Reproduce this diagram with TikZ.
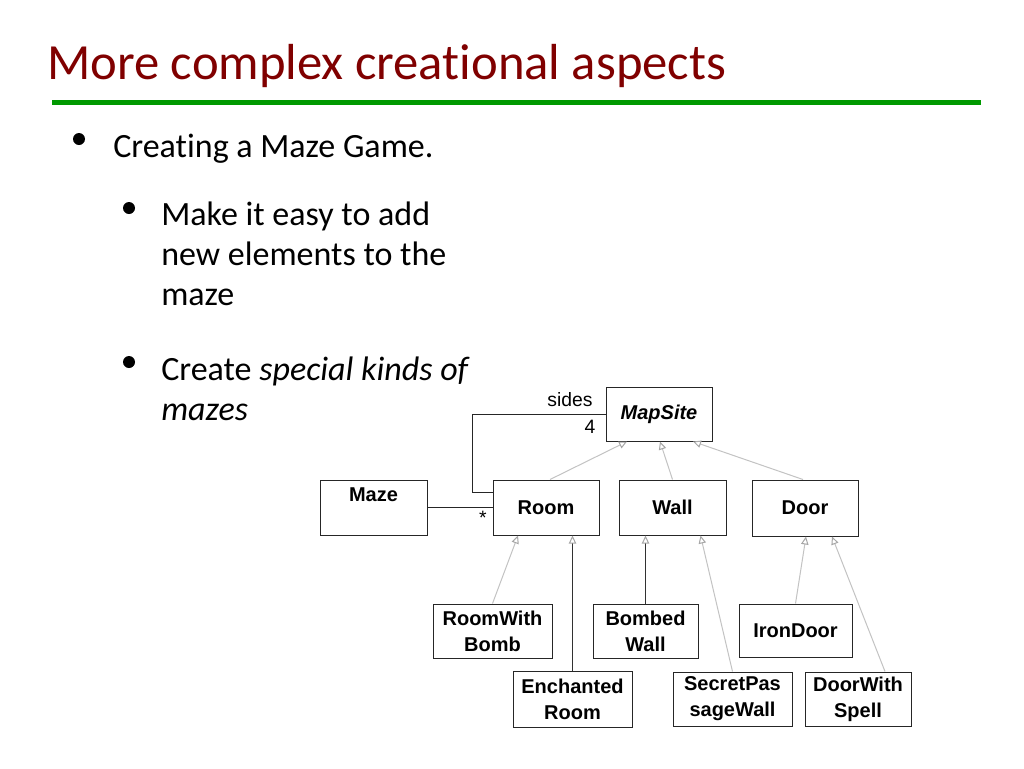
\documentclass[tikz,border=0pt]{standalone}
\usepackage{fontspec}
\setmainfont{Carlito}[Ligatures=NoCommon]
\newfontfamily\diagfont{Liberation Sans}
\usetikzlibrary{arrows.meta,calc}
\definecolor{titlered}{RGB}{128,0,0}
\definecolor{rulegreen}{RGB}{0,153,0}
\definecolor{genline}{RGB}{195,195,195}
\definecolor{darkline}{RGB}{50,50,50}
\begin{document}
\begin{tikzpicture}[x=0.75pt,y=-0.75pt,
  cls/.style={draw=black!85, line width=0.75pt, align=center, inner sep=0pt,
    font=\diagfont\fontsize{15}{19.5}\selectfont\bfseries},
  lbl/.style={font=\diagfont\fontsize{14.5}{17}\selectfont, inner sep=0pt},
  body/.style={anchor=base west, inner sep=0pt, font=\fontsize{25.5}{30}\selectfont},
  gen/.style={draw=genline, line width=0.75pt, -{Triangle[open,length=6pt,width=5.5pt,color=gray!70]}},
  gendark/.style={draw=darkline, line width=0.75pt, -{Triangle[open,length=6pt,width=5.5pt,color=gray!70]}},
  assoc/.style={draw=black!85, line width=0.75pt},
  bullet/.style={circle, fill=black, inner sep=0pt, minimum size=9pt}]
\useasboundingbox (0,0) rectangle (1024,768);
\fill[white] (0,0) rectangle (1024,768);

% title
\node[anchor=base west, inner sep=0pt, text=titlered, font=\fontsize{38}{45}\selectfont] (title) at (47,79) {More complex creational aspects};
\fill[rulegreen] (52,99.5) rectangle (981,104.5);

% bullets
\node[bullet] (b1) at (79,139) {};
\node[body] (t1) at (113,157) {Creating a Maze Game.};
\node[bullet] (b2) at (129,208) {};
\node[body] (t2a) at (161,225) {Make it easy to add};
\node[body] (t2b) at (161,265) {new elements to the};
\node[body] (t2c) at (161,305) {maze};
\node[bullet] (b3) at (129,362) {};
\node[body] (t3a) at (161,380) {Create \textit{special kinds of}};
\node[body] (t3b) at (161,420) {\textit{mazes}};

% classes
\node[cls, minimum width=79.5pt, minimum height=40.5pt] (mapsite) at (659,414) {\textit{MapSite}};
\node[cls, minimum width=80.25pt, minimum height=41.25pt] (maze) at (373.5,507.5) {};
\node[cls, anchor=center, draw=none] (mazelbl) at (373.5,495) {Maze};
\node[cls, minimum width=79.5pt, minimum height=41.25pt] (room) at (546,507.5) {Room};
\node[cls, minimum width=80.25pt, minimum height=41.25pt] (wall) at (672.5,507.5) {Wall};
\node[cls, minimum width=79.5pt, minimum height=42pt] (door) at (805,508) {Door};
\node[cls, minimum width=89.25pt, minimum height=40.5pt] (rwb) at (492.5,631) {RoomWith\\Bomb};
\node[cls, minimum width=78.75pt, minimum height=40.5pt] (bw) at (645.5,631) {Bombed\\Wall};
\node[cls, minimum width=84.75pt, minimum height=39.75pt] (idoor) at (795.5,630.5) {IronDoor};
\node[cls, minimum width=89.25pt, minimum height=42pt] (er) at (572.5,699) {Enchanted\\Room};
\node[cls, minimum width=89.25pt, minimum height=40.5pt] (spw) at (732.5,699) {SecretPas\\sageWall};
\node[cls, minimum width=79.5pt, minimum height=40.5pt] (dws) at (858,699) {DoorWith\\Spell};

% generalizations
\draw[gen] ($(room.north)+(4,0)$) -- ($(mapsite.south)+(-32,0)$);
\draw[gen] (wall.north) -- ($(mapsite.south)+(1,0)$);
\draw[gen] ($(door.north)+(-2,0)$) -- ($(mapsite.south)+(34,0)$);
\draw[gen] (rwb.north) -- ($(room.south)+(-28,0)$);
\draw[gendark] (er.north) -- (er.north |- room.south);
\draw[gendark] (bw.north) -- (bw.north |- wall.south);
\draw[gen] (spw.north) -- ($(wall.south)+(28,0)$);
\draw[gen] (idoor.north) -- ($(door.south)+(1,0)$);
\draw[gen] ($(dws.north)+(27,0)$) -- ($(door.south)+(27,0)$);

% associations
\draw[assoc] (maze.east) -- (room.west);
\draw[assoc] ($(room.north west)+(0,13)$) -- ++(-20,0) |- (mapsite.west);
\node[lbl] (sides) at (570,400) {sides};
\node[lbl] (four) at (590,427) {4};
\node[lbl] (star) at (483,518) {*};
\end{tikzpicture}
\end{document}
